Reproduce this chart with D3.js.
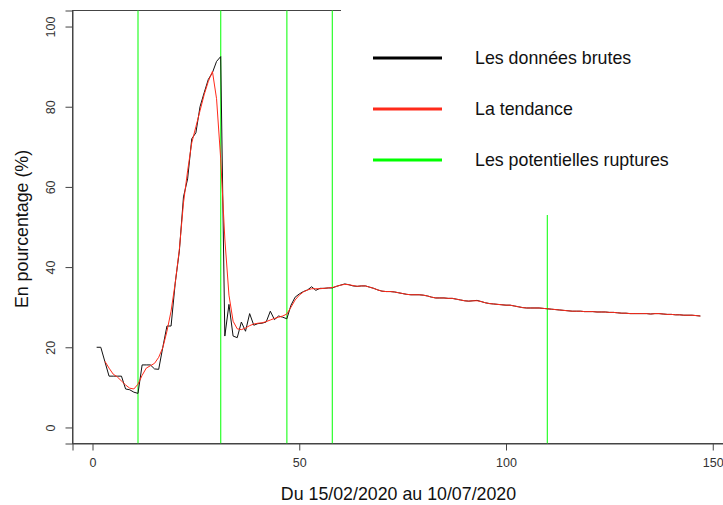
<!DOCTYPE html>
<html>
<head>
<meta charset="utf-8">
<script src="https://cdn.jsdelivr.net/npm/d3@7"></script>
<style>
  html, body { margin: 0; padding: 0; background: #fff; }
  svg { display: block; font-family: "Liberation Sans", Arial, sans-serif; }
</style>
</head>
<body>
<svg id="chart" width="723" height="505"></svg>
<script>
// Raw daily share (%), day 1 .. 147
const rawValues = [
  20.0, 20.0, 16.4, 12.8, 12.8, 12.8, 12.8, 9.6, 9.4, 8.8,
  8.5, 15.6, 15.6, 15.6, 14.6, 14.5, 20.0, 25.3, 25.3, 36.0,
  44.0, 57.5, 62.0, 72.0, 73.5, 80.0, 83.5, 86.8, 88.5, 91.3,
  92.5, 22.8, 30.7, 22.8, 22.4, 26.3, 24.0, 28.4, 25.5, 25.9,
  26.0, 26.3, 29.0, 26.9, 27.8, 27.5, 27.1, 30.5, 32.5, 33.3,
  33.9, 34.3, 35.1, 34.2, 34.7, 34.7, 34.8, 34.8, 35.2, 35.5,
  35.8, 35.6, 35.3, 35.2, 35.3, 35.3, 35.0, 34.7, 34.3, 34.0,
  33.9, 33.9, 33.8, 33.6, 33.4, 33.2, 33.1, 33.1, 33.1, 33.0,
  32.8, 32.5, 32.3, 32.3, 32.3, 32.2, 32.2, 32.0, 31.8, 31.6,
  31.5, 31.6, 31.7, 31.4, 31.1, 30.9, 30.8, 30.7, 30.6, 30.5,
  30.5, 30.3, 30.1, 29.9, 29.8, 29.8, 29.8, 29.8, 29.7, 29.6,
  29.5, 29.4, 29.3, 29.2, 29.1, 29.0, 29.0, 29.0, 28.9, 28.9,
  28.9, 28.8, 28.8, 28.8, 28.7, 28.7, 28.6, 28.5, 28.5, 28.4,
  28.4, 28.4, 28.4, 28.4, 28.3, 28.4, 28.4, 28.3, 28.2, 28.2,
  28.1, 28.1, 28.0, 28.0, 28.0, 27.9, 27.8
];
const rawStartDay = 1;

// Smoothed trend (%), day 3 .. 147
const trendValues = [
  16.5, 14.8, 13.3, 12.6, 11.6, 10.6, 9.8, 9.6, 10.8, 13.0,
  14.8, 15.4, 16.0, 17.5, 19.9, 24.0, 29.0, 36.0, 44.4, 56.0,
  64.0, 71.0, 75.0, 79.0, 83.0, 86.3, 88.8, 82.0, 67.0, 47.0,
  33.0, 26.5, 24.6, 24.4, 24.8, 25.4, 25.8, 26.0, 26.1, 26.4,
  26.8, 27.2, 27.5, 27.8, 28.3, 30.0, 31.8, 33.0, 33.8, 34.3,
  34.6, 34.6, 34.6, 34.7, 34.8, 34.9, 35.2, 35.5, 35.7, 35.6,
  35.4, 35.2, 35.3, 35.3, 35.0, 34.7, 34.3, 34.0, 33.9, 33.9,
  33.8, 33.6, 33.4, 33.2, 33.1, 33.1, 33.1, 33.0, 32.8, 32.5,
  32.3, 32.3, 32.3, 32.2, 32.2, 32.0, 31.8, 31.6, 31.5, 31.6,
  31.6, 31.4, 31.1, 30.9, 30.8, 30.7, 30.6, 30.5, 30.5, 30.3,
  30.1, 29.9, 29.8, 29.8, 29.8, 29.8, 29.7, 29.6, 29.5, 29.4,
  29.3, 29.2, 29.1, 29.0, 29.0, 29.0, 28.9, 28.9, 28.9, 28.8,
  28.8, 28.8, 28.7, 28.7, 28.6, 28.5, 28.5, 28.4, 28.4, 28.4,
  28.4, 28.4, 28.3, 28.4, 28.4, 28.3, 28.2, 28.2, 28.1, 28.1,
  28.0, 28.0, 28.0, 27.9, 27.8
];
const trendStartDay = 3;

// Days flagged as potential breaks, and how high each marker reaches (%)
const breakDays = [11, 31, 47, 58, 110];
const breakTops = [104, 104, 104, 104, 53];

const xTicks = [0, 50, 100, 150];
const yTicks = [0, 20, 40, 60, 80, 100];

const legendLabels = ["Les données brutes", "La tendance", "Les potentielles ruptures"];
const legendColors = ["#000000", "#ff2a1a", "#00ff00"];

const xTitle = "Du 15/02/2020 au 10/07/2020";
const yTitle = "En pourcentage (%)";

// ---- layout ----
const svg = d3.select("#chart");
const box = { left: 72.5, right: 724.5, top: 10.5, bottom: 443.5 };
const titleSize = 17.8;

const x = d3.scaleLinear().domain([-4.84, 152.84]).range([box.left, box.right]);
const y = d3.scaleLinear().domain([-4, 104]).range([box.bottom, box.top]);

const rawData = rawValues.map((v, i) => ({ day: rawStartDay + i, value: v }));
const trendData = trendValues.map((v, i) => ({ day: trendStartDay + i, value: v }));

const line = d3.line().x(d => x(d.day)).y(d => y(d.value));

// plot frame
svg.append("rect")
  .attr("x", box.left).attr("y", box.top)
  .attr("width", box.right - box.left).attr("height", box.bottom - box.top)
  .attr("fill", "none").attr("stroke", "#444").attr("stroke-width", 1);

// break markers
svg.append("g").selectAll("line").data(breakDays).join("line")
  .attr("x1", d => x(d)).attr("x2", d => x(d))
  .attr("y1", y(-4)).attr("y2", (d, i) => y(breakTops[i]))
  .attr("stroke", "#33ff33").attr("stroke-width", 1.25);

// raw series
svg.append("path").datum(rawData)
  .attr("d", line).attr("fill", "none")
  .attr("stroke", "#111").attr("stroke-width", 1)
  .attr("stroke-linejoin", "round");

// trend
svg.append("path").datum(trendData)
  .attr("d", line).attr("fill", "none")
  .attr("stroke", "#ff2a1a").attr("stroke-width", 1)
  .attr("stroke-linejoin", "round");

// legend (white backing over the upper right of the plot)
const legend = svg.append("g");
legend.append("rect")
  .attr("x", 341).attr("y", 0).attr("width", 400).attr("height", 215)
  .attr("fill", "#fff");
const legendY = d3.scalePoint().domain(legendLabels).range([58, 160]);
legendLabels.forEach((lab, i) => {
  legend.append("line")
    .attr("x1", 373).attr("x2", 442)
    .attr("y1", legendY(lab)).attr("y2", legendY(lab))
    .attr("stroke", legendColors[i]).attr("stroke-width", 3);
  legend.append("text")
    .attr("x", 475).attr("y", legendY(lab)).attr("dy", "0.35em")
    .attr("font-size", titleSize).attr("fill", "#111")
    .text(lab);
});

// x axis
const xAxis = d3.axisBottom(x).tickValues(xTicks).tickSize(7).tickPadding(8)
  .tickFormat(d3.format("d"));
const gx = svg.append("g").attr("transform", `translate(0,${box.bottom})`).call(xAxis);
gx.select(".domain").attr("stroke", "#444");
gx.selectAll(".tick line").attr("stroke", "#444");
gx.selectAll(".tick text").attr("font-size", 12.5).attr("fill", "#333")
  .attr("font-family", "Liberation Sans, Arial, sans-serif");

// y axis with rotated labels
const yAxis = d3.axisLeft(y).tickValues(yTicks).tickSize(7).tickFormat(d3.format("d"));
const gy = svg.append("g").attr("transform", `translate(${box.left},0)`).call(yAxis);
gy.select(".domain").attr("stroke", "#444");
gy.selectAll(".tick line").attr("stroke", "#444");
gy.selectAll(".tick text")
  .attr("font-size", 12.5).attr("fill", "#333")
  .attr("font-family", "Liberation Sans, Arial, sans-serif")
  .attr("x", null).attr("dy", null)
  .attr("text-anchor", "middle")
  .attr("transform", "translate(-18,0) rotate(-90)");

// axis titles
svg.append("text")
  .attr("x", (box.left + box.right) / 2).attr("y", 500)
  .attr("text-anchor", "middle").attr("font-size", titleSize).attr("fill", "#111")
  .text(xTitle);
svg.append("text")
  .attr("transform", `translate(28,${(box.top + box.bottom) / 2 + 2}) rotate(-90)`)
  .attr("text-anchor", "middle").attr("font-size", titleSize).attr("fill", "#111")
  .text(yTitle);
</script>
</body>
</html>
